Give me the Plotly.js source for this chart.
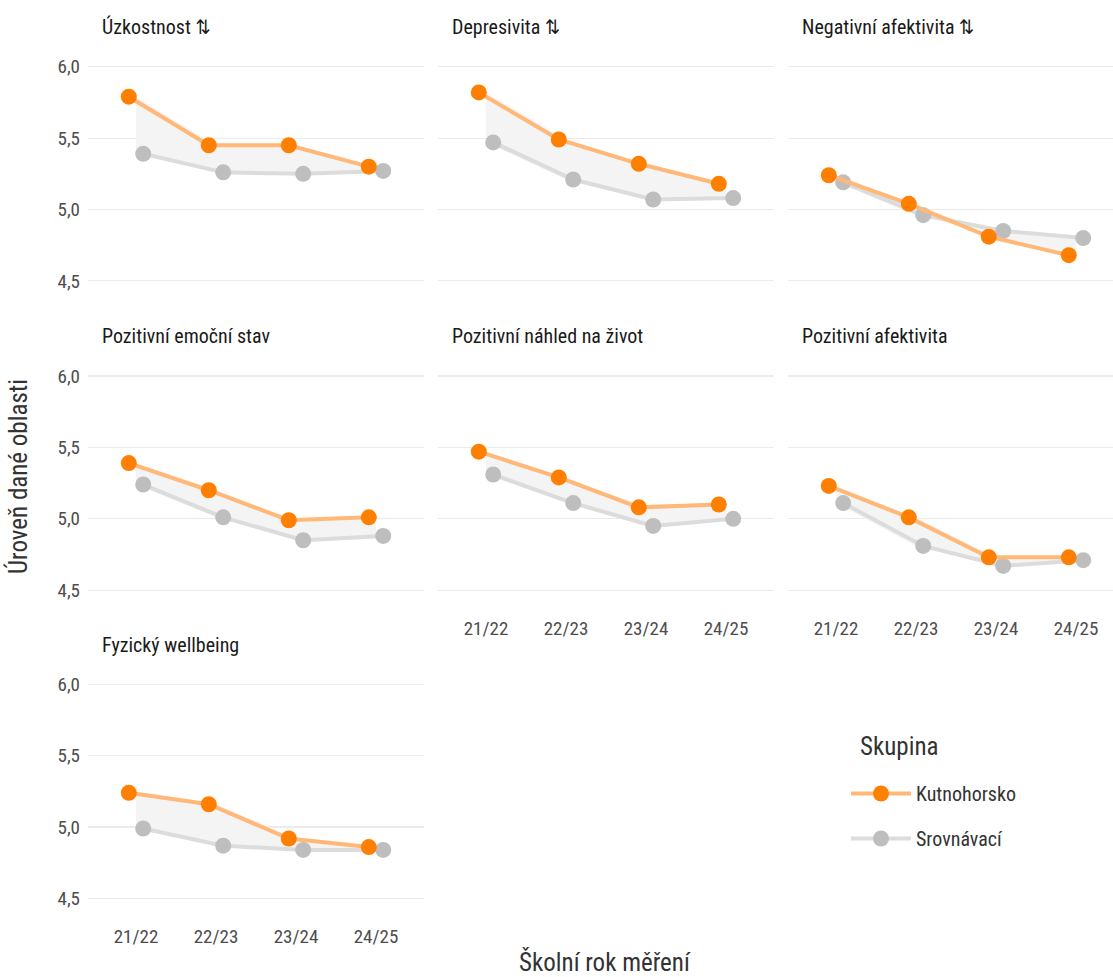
<!DOCTYPE html>
<html>
<head>
<meta charset="utf-8">
<script src="https://cdn.plot.ly/plotly-3.0.1.min.js"></script>
<style>
  html, body { margin: 0; padding: 0; background: #ffffff; overflow: hidden; }
  #chart { width: 1113px; height: 977px; }
</style>
</head>
<body>
<div id="chart"></div>
<script>
// School years on the x axis
const years = ['21/22', '22/23', '23/24', '24/25'];

// Panel titles
const panelTitles = [
  'Úzkostnost ⇅',
  'Depresivita ⇅',
  'Negativní afektivita ⇅',
  'Pozitivní emoční stav',
  'Pozitivní náhled na život',
  'Pozitivní afektivita',
  'Fyzický wellbeing'
];

// Group names
const groupNames = ['Kutnohorsko', 'Srovnávací'];
const legendTitle = 'Skupina';

// Mean levels per school year – Kutnohorsko
const kutUzkostnost   = [5.79, 5.45, 5.45, 5.30];
const kutDepresivita  = [5.82, 5.49, 5.32, 5.18];
const kutNegAfekt     = [5.24, 5.04, 4.81, 4.68];
const kutPozEmoce     = [5.39, 5.20, 4.99, 5.01];
const kutPozNahled    = [5.47, 5.29, 5.08, 5.10];
const kutPozAfekt     = [5.23, 5.01, 4.73, 4.73];
const kutFyzicky      = [5.24, 5.16, 4.92, 4.86];

// Mean levels per school year – Srovnávací
const srvUzkostnost   = [5.39, 5.26, 5.25, 5.27];
const srvDepresivita  = [5.47, 5.21, 5.07, 5.08];
const srvNegAfekt     = [5.19, 4.96, 4.85, 4.80];
const srvPozEmoce     = [5.24, 5.01, 4.85, 4.88];
const srvPozNahled    = [5.31, 5.11, 4.95, 5.00];
const srvPozAfekt     = [5.11, 4.81, 4.67, 4.71];
const srvFyzicky      = [4.99, 4.87, 4.84, 4.84];

// Y ticks
const yTicks = [4.5, 5.0, 5.5, 6.0];

const kutSeries = [kutUzkostnost, kutDepresivita, kutNegAfekt, kutPozEmoce, kutPozNahled, kutPozAfekt, kutFyzicky];
const srvSeries = [srvUzkostnost, srvDepresivita, srvNegAfekt, srvPozEmoce, srvPozNahled, srvPozAfekt, srvFyzicky];

// ---- geometry (pixels) ----
const W = 1113, H = 977;
const PX_PER_CAT = 80;            // horizontal scale of one school year
const colLeft = [88, 438, 788];
const rowTop = [56, 365.3, 673.6];
const panelH = 235.6;
const yRange = [4.425, 6.075];
const dodge = 0.09;

const FONT = "'Ubuntu Condensed', 'Roboto Condensed', 'Liberation Sans Narrow', 'DejaVu Sans Condensed', 'Arial Narrow', Roboto, sans-serif";

const COL_K_LINE = '#ffb877';
const COL_K_PT = '#ff7f00';
const COL_S_LINE = '#dcdcdc';
const COL_S_PT = '#bebebe';
const COL_RIBBON = '#f4f4f4';

const traces = [];
const layout = {
  width: W, height: H,
  margin: { l: 0, r: 0, t: 0, b: 0 },
  paper_bgcolor: '#ffffff',
  plot_bgcolor: '#ffffff',
  separators: ', ',
  font: { family: FONT, color: '#4d4d4d', size: 17 },
  showlegend: true,
  legend: {
    x: 846 / W, y: 1 - 774 / H,
    xanchor: 'left', yanchor: 'top',
    bgcolor: 'rgba(0,0,0,0)',
    font: { size: 20, color: '#333333' },
    tracegroupgap: 16,
    itemwidth: 60
  },
  annotations: [],
  hovermode: false
};

const catX = years.map((_, i) => i + 1);

panelTitles.forEach((title, p) => {
  const row = Math.floor(p / 3), col = p % 3;
  const n = p + 1;
  const xa = 'x' + (n === 1 ? '' : n), ya = 'y' + (n === 1 ? '' : n);
  const xKey = 'xaxis' + (n === 1 ? '' : n), yKey = 'yaxis' + (n === 1 ? '' : n);

  const left = colLeft[col];
  const right = Math.min(left + 4.2 * PX_PER_CAT, W);
  const top = rowTop[row], bottom = top + panelH;

  const showX = (p >= 4);
  const showY = (col === 0);

  layout[xKey] = {
    domain: [left / W, right / W],
    range: [0.4, 0.4 + (right - left) / PX_PER_CAT],
    anchor: ya,
    tickmode: 'array',
    tickvals: catX,
    ticktext: years,
    showticklabels: showX,
    ticks: '',
    ticklabelstandoff: 14,
    showgrid: false,
    zeroline: false,
    showline: false,
    fixedrange: true,
    tickfont: { size: 19, color: '#4d4d4d' }
  };
  layout[yKey] = {
    domain: [1 - bottom / H, 1 - top / H],
    range: yRange,
    anchor: xa,
    tickmode: 'array',
    tickvals: yTicks,
    tickformat: '.1f',
    showticklabels: showY,
    ticks: '',
    ticklabelstandoff: 7,
    showgrid: true,
    gridcolor: '#ebebeb',
    gridwidth: 1.2,
    zeroline: false,
    showline: false,
    fixedrange: true,
    tickfont: { size: 19, color: '#4d4d4d' }
  };

  const k = kutSeries[p], s = srvSeries[p];

  // shaded gap between the two groups
  traces.push({
    type: 'scatter', mode: 'lines',
    x: catX.concat(catX.slice().reverse()),
    y: k.concat(s.slice().reverse()),
    xaxis: xa, yaxis: ya,
    fill: 'toself', fillcolor: COL_RIBBON,
    line: { width: 0, color: 'rgba(0,0,0,0)' },
    showlegend: false, hoverinfo: 'skip'
  });

  // comparison group
  traces.push({
    type: 'scatter', mode: 'lines+markers',
    name: groupNames[1], legendgroup: 's', legendrank: 2,
    x: catX.map(v => v + dodge), y: s,
    xaxis: xa, yaxis: ya,
    line: { color: COL_S_LINE, width: 4 },
    marker: { color: COL_S_PT, size: 16 },
    showlegend: p === 0, cliponaxis: false
  });

  // Kutnohorsko
  traces.push({
    type: 'scatter', mode: 'lines+markers',
    name: groupNames[0], legendgroup: 'k', legendrank: 1,
    x: catX.map(v => v - dodge), y: k,
    xaxis: xa, yaxis: ya,
    line: { color: COL_K_LINE, width: 4 },
    marker: { color: COL_K_PT, size: 16 },
    showlegend: p === 0, cliponaxis: false
  });

  // panel strip title
  layout.annotations.push({
    xref: 'paper', yref: 'paper',
    x: (left + 12) / W, y: 1 - (top - 29) / H,
    xanchor: 'left', yanchor: 'middle',
    text: title, showarrow: false,
    font: { size: 20, color: '#1a1a1a' }
  });
});

// legend heading
layout.annotations.push({
  xref: 'paper', yref: 'paper',
  x: 858 / W, y: 1 - 746 / H,
  xanchor: 'left', yanchor: 'middle',
  text: legendTitle, showarrow: false,
  font: { size: 25, color: '#333333' }
});

// axis titles
layout.annotations.push({
  xref: 'paper', yref: 'paper',
  x: 18 / W, y: 1 - 477 / H,
  xanchor: 'center', yanchor: 'middle',
  text: 'Úroveň dané oblasti', textangle: -90, showarrow: false,
  font: { size: 25, color: '#333333' }
});
layout.annotations.push({
  xref: 'paper', yref: 'paper',
  x: 605 / W, y: 1 - 962 / H,
  xanchor: 'center', yanchor: 'middle',
  text: 'Školní rok měření', showarrow: false,
  font: { size: 25, color: '#333333' }
});

Plotly.newPlot('chart', traces, layout, { displayModeBar: false, staticPlot: true });
</script>
</body>
</html>
